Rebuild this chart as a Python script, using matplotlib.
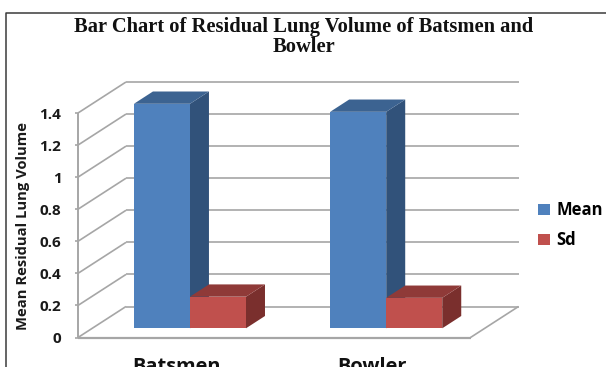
import matplotlib
matplotlib.use('Agg')
import matplotlib.pyplot as plt
from matplotlib.patches import Patch, Polygon
from matplotlib.lines import Line2D

categories = ['Batsmen', 'Bowler']
mean_values = [1.40, 1.35]
sd_values = [0.197, 0.19]
y_ticks = [0, 0.2, 0.4, 0.6, 0.8, 1, 1.2, 1.4]

W, H = 606, 367
BLUE = ('#4F81BD', '#3C6391', '#31527A')
RED = ('#C0504D', '#8F3A38', '#7A2F2D')
GRID = '#A6A6A6'
SANS = 'Open Sans'

fig = plt.figure(figsize=(W / 100, H / 100), dpi=100)
fig.patch.set_facecolor('white')

# front plane of the 3D box, everything else is offset from it
left, right, bottom, top = 78, 470.5, 337.5, 113
ax = fig.add_axes([left / W, 1 - bottom / H, (right - left) / W, (bottom - top) / H])
ax.set_xlim(0, 2)
ax.set_ylim(0, 1.4)
ax.axis('off')

px_x = (right - left) / 2
px_y = (bottom - top) / 1.4
depth_x = 48 / px_x
depth_y = 31 / px_y


def line(xs, ys, lw=1.2, z=1):
    ax.add_line(Line2D(xs, ys, color=GRID, lw=lw, zorder=z, clip_on=False,
                       solid_capstyle='butt'))


# back wall and side wall gridlines
for v in y_ticks:
    line([0, depth_x], [v, v + depth_y])
    line([depth_x, 2 + depth_x], [v + depth_y, v + depth_y])
    line([-3 / px_x, 0], [v, v])

# axis and floor edges
line([0, 0], [0, 1.4], lw=1.4)
line([0, 2], [0, 0], lw=1.6)
line([2, 2 + depth_x], [0, depth_y])


def bar3d(x0, width, value, colors):
    # bars stand a little way back from the front edge of the floor
    off_y = 9.2 / px_y
    bar_x, bar_y = 19 / px_x, 12.3 / px_y
    xl, xr = x0, x0 + width
    yb, yt = off_y, off_y + value
    face = [(xl, yb), (xr, yb), (xr, yt), (xl, yt)]
    roof = [(xl, yt), (xr, yt), (xr + bar_x, yt + bar_y), (xl + bar_x, yt + bar_y)]
    side = [(xr, yb), (xr + bar_x, yb + bar_y), (xr + bar_x, yt + bar_y), (xr, yt)]
    for pts, col in zip((side, roof, face), (colors[2], colors[1], colors[0])):
        ax.add_patch(Polygon(pts, closed=True, facecolor=col, edgecolor='none',
                             zorder=3, clip_on=False))


bar_w = 0.2855
for i in range(len(categories)):
    start = i + 0.285
    bar3d(start, bar_w, mean_values[i], BLUE)
    bar3d(start + bar_w, bar_w, sd_values[i], RED)

# tick labels
for v in y_ticks:
    ax.text(-16.5 / px_x, v - 1.5 / px_y, f'{v:g}', ha='right', va='center', fontsize=11,
            fontweight='bold', family=SANS, color='#1a1a1a', clip_on=False)
for i, name in enumerate(categories):
    ax.text(i + 0.5, -34 / px_y, name, ha='center', va='baseline', fontsize=14.4,
            fontweight='bold', family=SANS, color='#111111', clip_on=False)

fig.text(23 / W, 1 - 225.5 / H, 'Mean Residual Lung Volume', rotation=90,
         ha='center', va='center', fontsize=10.6, fontweight='bold', family=SANS,
         color='#1a1a1a')

fig.text(303.5 / W, 1 - 27 / H, 'Bar Chart of Residual Lung Volume of Batsmen and',
         ha='center', va='center', fontsize=14.8, fontweight='bold',
         family='Liberation Serif', color='#111111')
fig.text(303.5 / W, 1 - 47 / H, 'Bowler', ha='center', va='center', fontsize=14.8,
         fontweight='bold', family='Liberation Serif', color='#111111')

handles = [Patch(facecolor=BLUE[0], label='Mean'), Patch(facecolor=RED[0], label='Sd')]
fig.legend(handles=handles, loc='center left', bbox_to_anchor=(533 / W, 1 - 225 / H),
           frameon=False, handlelength=0.72, handleheight=0.62, handletextpad=0.4,
           labelspacing=0.72, borderpad=0.3, borderaxespad=0,
           prop={'family': SANS, 'weight': 'bold', 'size': 12})

# outer chart border, only the top and left edges fall inside the figure
fig.add_artist(Line2D([6 / W, 6 / W, 1], [0, 1 - 12.5 / H, 1 - 12.5 / H],
                      color='#3a3a3a', lw=1.1, transform=fig.transFigure))

fig.savefig('out.png', dpi=100)
